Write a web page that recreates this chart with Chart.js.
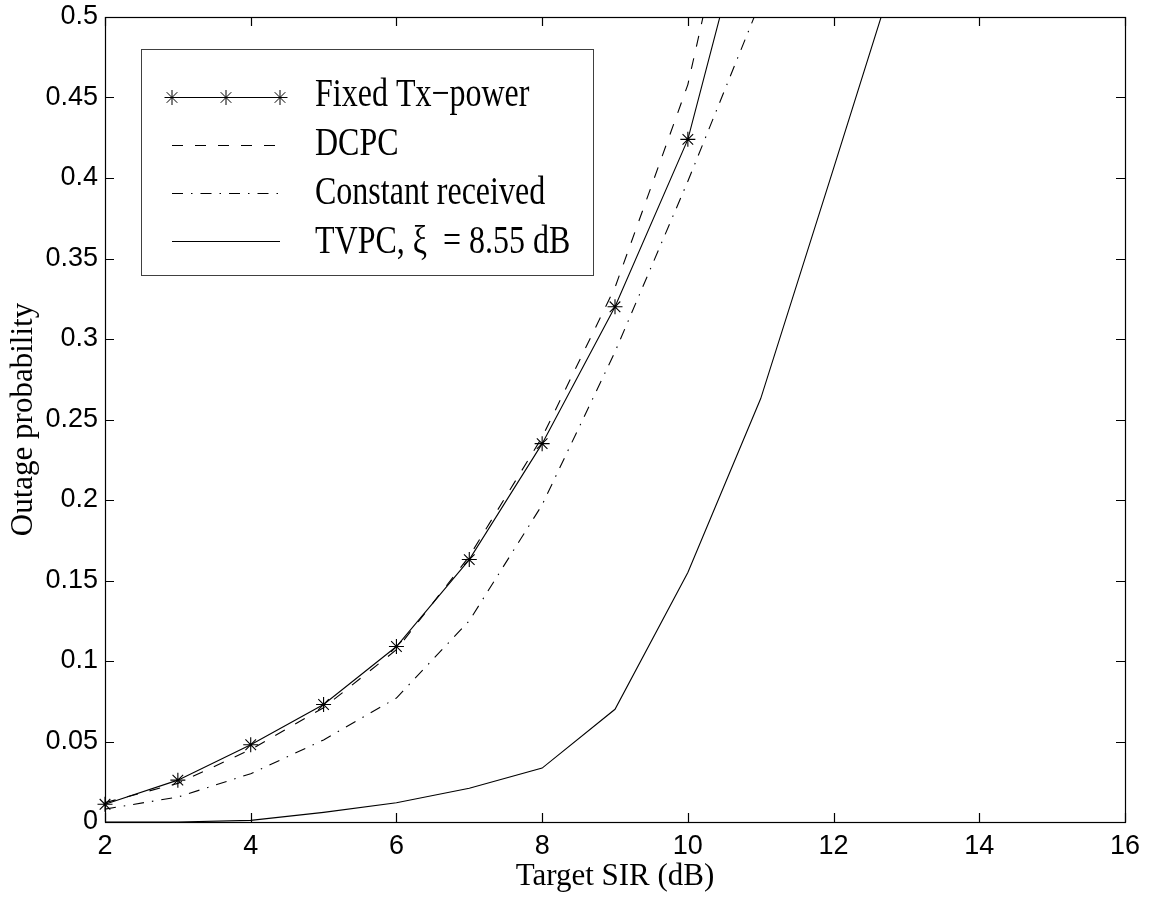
<!DOCTYPE html>
<html>
<head>
<meta charset="utf-8">
<script src="https://cdn.jsdelivr.net/npm/chart.js@4.4.1/dist/chart.umd.min.js"></script>
<style>
  html, body { margin: 0; padding: 0; background: #fff; }
  #wrap { width: 1154px; height: 897px; }
</style>
</head>
<body>
<div id="wrap"><canvas id="outage" width="1154" height="897"></canvas></div>
<script>
// Target SIR (dB) at which the outage was evaluated
const sirDb = [2, 3, 4, 5, 6, 7, 8, 9, 10, 11, 12, 13];

// Outage probability for each scheme
const fixedTxPower = [0.011, 0.026, 0.048, 0.073, 0.109, 0.163, 0.235, 0.320, 0.424, 0.597];
const dcpc = [0.012, 0.024, 0.045, 0.071, 0.107, 0.165, 0.239, 0.332, 0.458, 0.66];
const constantReceived = [0.008, 0.0155, 0.030, 0.051, 0.077, 0.125, 0.197, 0.292, 0.398, 0.51];
const tvpc = [0, 0, 0.001, 0.006, 0.012, 0.021, 0.0335, 0.070, 0.155, 0.263, 0.406, 0.55];

// Axis ticks
const xTicks = [2, 4, 6, 8, 10, 12, 14, 16];
const yTicks = [0, 0.05, 0.1, 0.15, 0.2, 0.25, 0.3, 0.35, 0.4, 0.45, 0.5];

const seriesLabels = ['Fixed Tx\u2212power', 'DCPC', 'Constant received', 'TVPC, \u03BE  = 8.55 dB'];

function toPoints(values) {
    return values.map((v, i) => ({ x: sirDb[i], y: v }));
}

// MATLAB style asterisk marker (plus + cross)
function drawStar(ctx, x, y, r) {
    const d = r * Math.SQRT1_2;
    ctx.beginPath();
    ctx.moveTo(x - r, y); ctx.lineTo(x + r, y);
    ctx.moveTo(x, y - r); ctx.lineTo(x, y + r);
    ctx.moveTo(x - d, y - d); ctx.lineTo(x + d, y + d);
    ctx.moveTo(x - d, y + d); ctx.lineTo(x + d, y - d);
    ctx.stroke();
}

// Box around the plot with inward tick marks on all four sides
const boxAxes = {
    id: 'boxAxes',
    afterDraw(chart) {
        const { ctx, chartArea: a, scales } = chart;
        const tl = 9;
        ctx.save();
        ctx.strokeStyle = '#000';
        ctx.lineWidth = 1.2;
        ctx.setLineDash([]);
        ctx.strokeRect(Math.round(a.left) + 0.5, Math.round(a.top) + 0.5,
            Math.round(a.right - a.left), Math.round(a.bottom - a.top));
        ctx.beginPath();
        scales.x.ticks.forEach(t => {
            const px = Math.round(scales.x.getPixelForValue(t.value)) + 0.5;
            ctx.moveTo(px, a.bottom); ctx.lineTo(px, a.bottom - tl);
            ctx.moveTo(px, a.top); ctx.lineTo(px, a.top + tl);
        });
        scales.y.ticks.forEach(t => {
            const py = Math.round(scales.y.getPixelForValue(t.value)) + 0.5;
            ctx.moveTo(a.left, py); ctx.lineTo(a.left + tl, py);
            ctx.moveTo(a.right, py); ctx.lineTo(a.right - tl, py);
        });
        ctx.stroke();
        ctx.restore();
    }
};

// Legend box in the upper left of the axes
const boxLegend = {
    id: 'boxLegend',
    afterDraw(chart) {
        const { ctx } = chart;
        const left = 141, top = 49, width = 452, height = 226;
        ctx.save();
        ctx.fillStyle = '#fff';
        ctx.fillRect(left, top, width, height);
        ctx.strokeStyle = '#404040';
        ctx.lineWidth = 1;
        ctx.strokeRect(left + 0.5, top + 0.5, width, height);

        chart.data.datasets.forEach((ds, i) => {
            const ly = 97.5 + i * 48;
            const ty = 95 + i * 49;
            ctx.strokeStyle = '#000';
            ctx.lineWidth = 1;
            ctx.setLineDash(ds.borderDash || []);
            ctx.beginPath();
            ctx.moveTo(172, ly);
            ctx.lineTo(280, ly);
            ctx.stroke();
            ctx.setLineDash([]);
            if (ds.pointRadius > 0) {
                [172, 226, 280].forEach(mx => drawStar(ctx, mx, ly, 7.5));
            }
            ctx.save();
            ctx.translate(315, ty);
            ctx.scale(0.8, 1);
            ctx.fillStyle = '#000';
            ctx.font = '40px "Liberation Serif"';
            ctx.textBaseline = 'middle';
            ctx.fillText(ds.label, 0, 0);
            ctx.restore();
        });
        ctx.restore();
    }
};

Chart.defaults.color = '#000';

const ctx = document.getElementById('outage').getContext('2d');
new Chart(ctx, {
    type: 'line',
    data: {
        datasets: [{
            label: seriesLabels[0],
            data: toPoints(fixedTxPower),
            borderColor: '#000',
            borderWidth: 1.1,
            pointStyle: 'star',
            pointRadius: 7.5,
            pointBorderColor: '#000',
            pointBorderWidth: 1.1,
            clip: { left: 10, top: 0, right: 0, bottom: 10 }
        }, {
            label: seriesLabels[1],
            data: toPoints(dcpc),
            borderColor: '#000',
            borderWidth: 1.1,
            borderDash: [11, 12],
            pointRadius: 0
        }, {
            label: seriesLabels[2],
            data: toPoints(constantReceived),
            borderColor: '#000',
            borderWidth: 1.1,
            borderDash: [11, 8, 1.5, 8],
            pointRadius: 0
        }, {
            label: seriesLabels[3],
            data: toPoints(tvpc),
            borderColor: '#000',
            borderWidth: 1.1,
            pointRadius: 0
        }]
    },
    options: {
        responsive: false,
        animation: false,
        layout: { padding: { top: 17, right: 29, left: 0, bottom: 0 } },
        elements: { line: { tension: 0, fill: false } },
        plugins: {
            legend: { display: false },
            tooltip: { enabled: false }
        },
        scales: {
            x: {
                type: 'linear',
                min: 2,
                max: 16,
                afterBuildTicks: s => { s.ticks = xTicks.map(v => ({ value: v })); },
                afterFit: s => { s.height = 75; s.paddingLeft = 0; s.paddingRight = 0; },
                grid: { display: false, drawTicks: false },
                border: { display: false },
                ticks: {
                    padding: 8,
                    maxRotation: 0,
                    autoSkip: false,
                    font: { family: 'Liberation Sans', size: 27 },
                    callback: v => String(v)
                },
                title: {
                    display: true,
                    text: 'Target SIR (dB)',
                    font: { family: 'Liberation Serif', size: 31 },
                    padding: { top: 0, bottom: 2 }
                }
            },
            y: {
                type: 'linear',
                min: 0,
                max: 0.5,
                afterBuildTicks: s => { s.ticks = yTicks.map(v => ({ value: v })); },
                afterFit: s => { s.width = 105; s.paddingTop = 0; s.paddingBottom = 0; },
                grid: { display: false, drawTicks: false },
                border: { display: false },
                ticks: {
                    padding: 7,
                    autoSkip: false,
                    font: { family: 'Liberation Sans', size: 27 },
                    callback: v => String(Number(v.toFixed(2)))
                },
                title: {
                    display: true,
                    text: 'Outage probability',
                    font: { family: 'Liberation Serif', size: 31 },
                    padding: { top: 5, bottom: 0 }
                }
            }
        }
    },
    plugins: [boxAxes, boxLegend]
});
</script>
</body>
</html>
